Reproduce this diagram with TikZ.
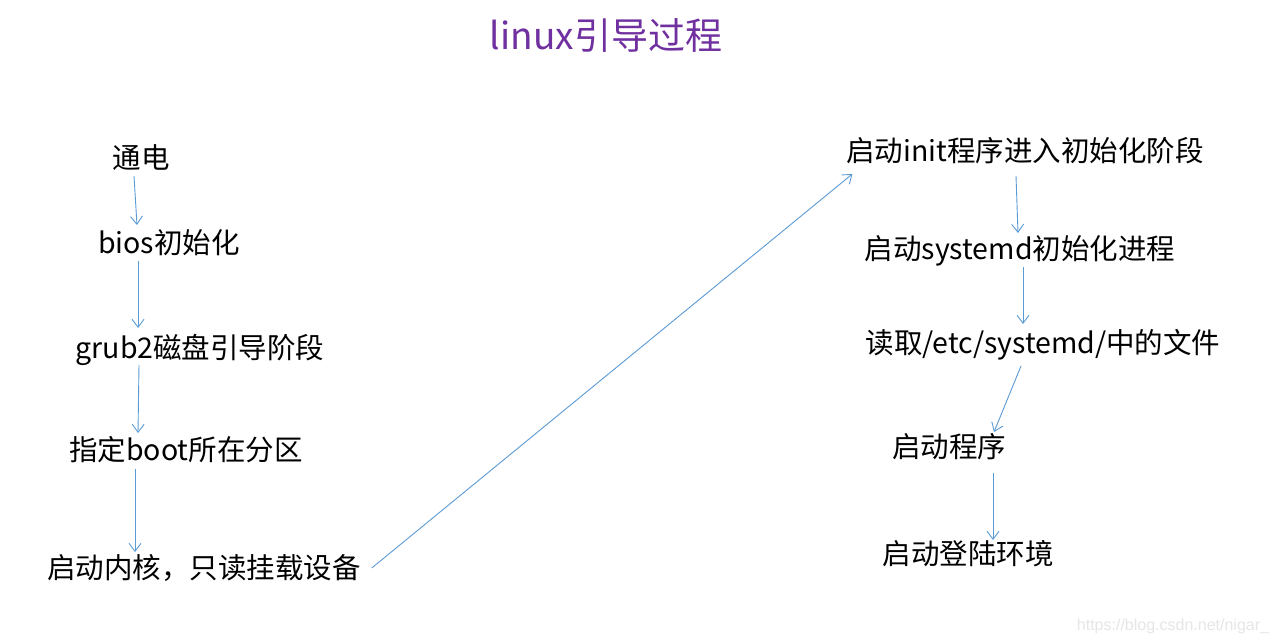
\documentclass[tikz,border=0pt]{standalone}
\usepackage{fontspec}
\setmainfont{Noto Sans CJK SC}
\newfontfamily\markfont{Liberation Sans}
\usetikzlibrary{arrows.meta}
\definecolor{c5b9bd5}{RGB}{91,155,213}
\definecolor{c7030a0}{RGB}{112,48,160}
\definecolor{ce6e6e6}{RGB}{230,230,230}
\begin{document}
\begin{tikzpicture}[y=-1pt, x=1pt, inner sep=3pt, outer sep=0pt,
  stage/.style={font=\fontsize{28.5}{32}\selectfont, text height=24pt, text depth=4pt},
  flow/.style={draw=c5b9bd5, line width=0.9pt, -{Straight Barb[length=8pt,width=12pt]}}]
  \useasboundingbox[fill=white] (0,0) rectangle (1277,644);
  \path (606,35) node[text=c7030a0, font=\fontsize{37}{42}\selectfont] (title) {linux引导过程};
  % left column
  \path (141,159) node[stage] (tongdian) {通电};
  \path (169,244) node[stage] (bios) {bios初始化};
  \path (200,348) node[stage] (grub) {grub2磁盘引导阶段};
  \path (186,450) node[stage] (boot) {指定boot所在分区};
  \path (204,568) node[stage] (kernel) {启动内核，只读挂载设备};
  % right column
  \path (1025,152) node[stage] (init) {启动init程序进入初始化阶段};
  \path (1020,250) node[stage] (systemd) {启动systemd初始化进程};
  \path (1043,343) node[stage] (readetc) {读取/etc/systemd/中的文件};
  \path (949,447) node[stage] (prog) {启动程序};
  \path (968,554) node[stage] (login) {启动登陆环境};
  \path (1173,626) node[text=ce6e6e6, font=\markfont\fontsize{16}{18}\selectfont] (mark) {https://blog.csdn.net/nigar\_};
  \draw[flow] ([xshift=-7pt]tongdian.south) -- ([xshift=-32pt,yshift=2pt]bios.north);
  \draw[flow] ([xshift=-31pt]bios.south) -- ([xshift=-62pt,yshift=3pt]grub.north);
  \draw[flow] ([xshift=-61pt]grub.south) -- ([xshift=-48pt]boot.north);
  \draw[flow] ([xshift=-51pt,yshift=-2pt]boot.south) -- ([xshift=-69pt,yshift=-1pt]kernel.north);
  \draw[flow] ([xshift=8pt]kernel.east) -- ([xshift=9pt,yshift=-5pt]init.south west);
  \draw[flow] ([xshift=-9pt,yshift=-7pt]init.south) -- ([xshift=-2pt]systemd.north);
  \draw[flow] ([xshift=3pt]systemd.south) -- ([xshift=-20pt,yshift=2pt]readetc.north);
  \draw[flow] ([xshift=-22pt,yshift=-6pt]readetc.south) -- ([xshift=45pt,yshift=-2pt]prog.north);
  \draw[flow] ([xshift=44pt,yshift=-9pt]prog.south) -- ([xshift=25pt,yshift=-3pt]login.north);
\end{tikzpicture}
\end{document}
